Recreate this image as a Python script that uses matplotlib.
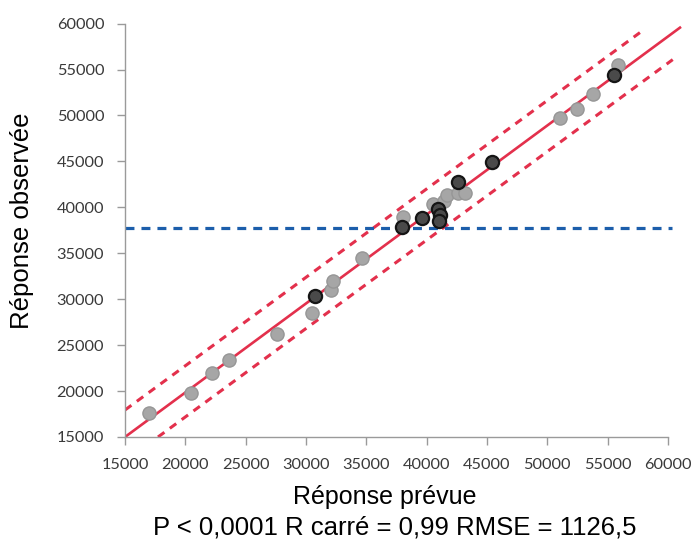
import matplotlib
matplotlib.use("Agg")
import matplotlib.pyplot as plt

# predicted vs observed (grey = normal points, dark = highlighted points)
grey_pred = [16990, 20450, 22190, 23620, 27620, 30500, 32050, 32260, 34620,
             38060, 40550, 41400, 41660, 42600, 43180, 51050, 52480, 53760, 55880]
grey_obs = [17650, 19760, 21940, 23390, 26190, 28510, 31020, 32000, 34470,
            39000, 40390, 40700, 41370, 41590, 41550, 49730, 50710, 52340, 55530]
dark_pred = [30770, 37960, 39590, 40930, 41080, 41020, 42620, 45440, 55520]
dark_obs = [30360, 37880, 38830, 39800, 39150, 38460, 42790, 44890, 54390]

# fit line and bands (end points)
fit_x = [15000, 61000]
fit_y = [15000, 59560]
upper_x = [15000, 57680]
upper_y = [17940, 59020]
lower_x = [17735, 60400]
lower_y = [15000, 56080]

# mean of response
mean_x = [15000, 60330]
mean_y = 37750

ticks = [15000, 20000, 25000, 30000, 35000, 40000, 45000, 50000, 55000, 60000]

fig = plt.figure(figsize=(6.92, 5.48), dpi=100)
ax = fig.add_axes([125 / 692, 111 / 548, 561 / 692, 418 / 548])

red = "#e3304c"
ax.plot(fit_x, fit_y, color=red, lw=1.9, zorder=2)
ax.plot(upper_x, upper_y, color=red, lw=2.2, dashes=(2.6, 2.2), zorder=2)
ax.plot(lower_x, lower_y, color=red, lw=2.2, dashes=(2.6, 2.2), zorder=2)
ax.plot(mean_x, [mean_y, mean_y], color="#1c5eab", lw=2.3, dashes=(2.8, 2.2), zorder=2)

ax.scatter(grey_pred, grey_obs, s=90, color="#a6a6a6", edgecolor="#969696", lw=1, zorder=3)
ax.scatter(dark_pred, dark_obs, s=90, color="#4a4a4a", edgecolor="#151515", lw=1.6, zorder=4)

ax.set_xlim(15000, 61500)
ax.set_ylim(15000, 60500)
ax.set_xticks(ticks)
ax.set_yticks(ticks)

for side in ["top", "right"]:
    ax.spines[side].set_visible(False)
for side in ["left", "bottom"]:
    ax.spines[side].set_color("#9a9a9a")
    ax.spines[side].set_linewidth(1.0)
    ax.spines[side].set_bounds(15000, 60000)

ax.tick_params(direction="out", length=6, width=1, color="#9a9a9a",
               labelcolor="#3a3a3a", labelsize=11.8)
ax.tick_params(axis="x", pad=9)
ax.tick_params(axis="y", pad=9)
for lab in ax.get_xticklabels() + ax.get_yticklabels():
    lab.set_family("Lato")

fig.text(22 / 692, 1 - 221 / 548, "Réponse observée", rotation=90,
         ha="center", va="center", fontsize=18.5, family="Liberation Sans")
fig.text(385 / 692, 1 - 497 / 548, "Réponse prévue",
         ha="center", va="center", fontsize=18, family="Liberation Sans")
fig.text(395 / 692, 1 - 527 / 548, "P < 0,0001 R carré = 0,99 RMSE = 1126,5",
         ha="center", va="center", fontsize=18.5, family="Liberation Sans")

fig.savefig("out.png", dpi=100)
